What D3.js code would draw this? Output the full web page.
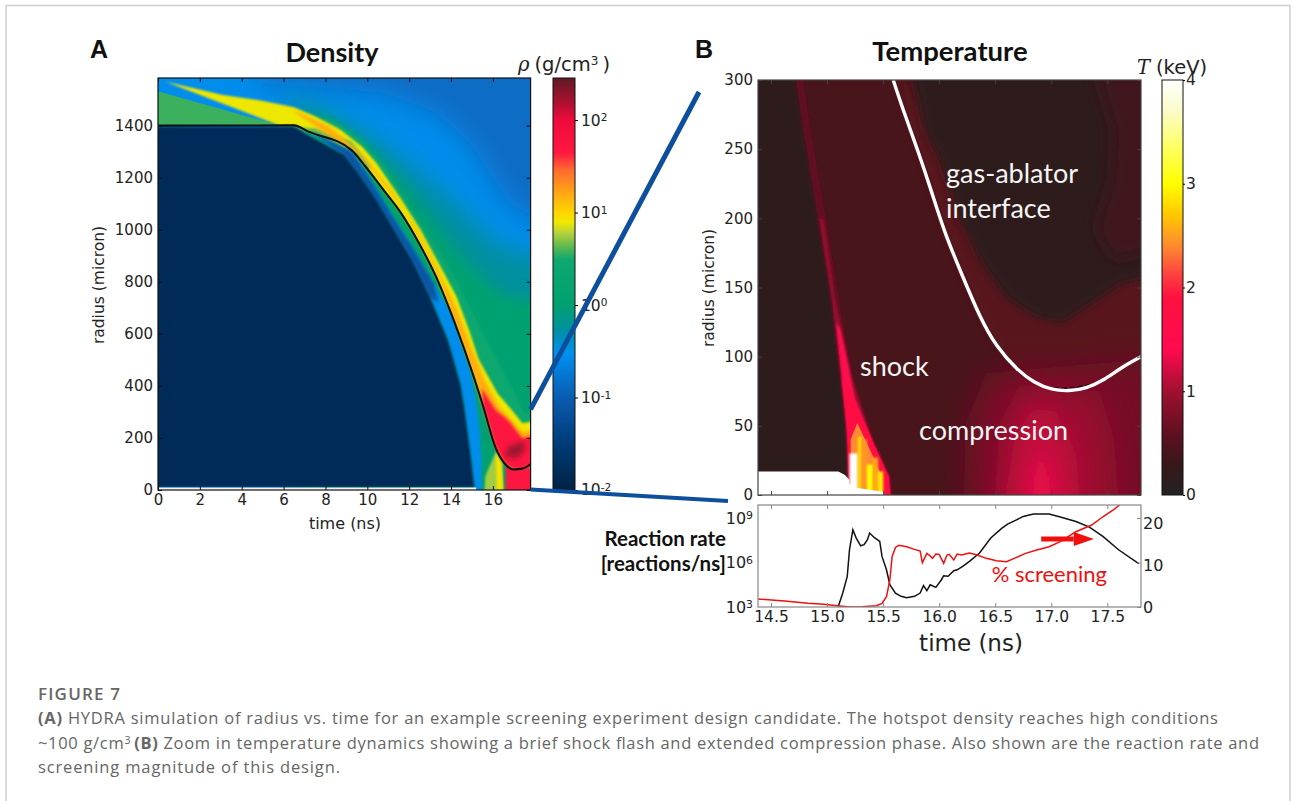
<!DOCTYPE html>
<html>
<head>
<meta charset="utf-8">
<script src="https://cdn.jsdelivr.net/npm/d3@7"></script>
<style>
  html, body { margin: 0; background: #fff; }
  svg { display: block; }
  .tick text { font-family: "DejaVu Sans", sans-serif; fill: #222; }
  .label { font-family: "DejaVu Sans", sans-serif; fill: #222; }
</style>
</head>
<body>
<svg id="fig" width="1292" height="801"></svg>
<script>
// colour maps
const densityStops = [0.01, 0.038, 0.1, 0.3, 0.54, 1, 3.1, 4.3, 6, 7.8, 10, 15, 29, 44, 100, 150, 285];
const densityColors = ["#002244", "#004080", "#0a5cb0", "#0090f0", "#0090a0", "#00a070", "#0ea870", "#60b850",
  "#b4d23c", "#eee800", "#ffd600", "#ffae10", "#ff6a30", "#ff1840", "#f00a3c", "#b01030", "#5e1a24"];
const tempStops = [0, 0.3, 0.6, 1, 1.4, 1.9, 2.1, 2.4, 2.7, 3, 3.4, 3.7, 4];
const tempColors = ["#222222", "#381818", "#601020", "#a01030", "#ff0a50", "#ff1040", "#ff3a40", "#ff8a30",
  "#ffc800", "#ffff00", "#ffff70", "#fbfbc8", "#ffffff"];

const densityTicks = [0.01, 0.1, 1, 10, 100];
const tempTicks = [0, 1, 2, 3, 4];
const radiusTicksA = [0, 200, 400, 600, 800, 1000, 1200, 1400];
const timeTicksA = [0, 2, 4, 6, 8, 10, 12, 14, 16];
const radiusTicksB = [0, 50, 100, 150, 200, 250, 300];
const timeTicksB = [14.5, 15, 15.5, 16, 16.5, 17, 17.5];
const rateTicks = [1e3, 1e6, 1e9];
const screeningTicks = [0, 10, 20];

// Panel A, [time ns, radius micron]
const gasEdge = [[0, 1400], [6.5, 1401], [7.19, 1377], [9.23, 1307], [9.91, 1243], [10.77, 1153], [11.62, 1063],
  [12.47, 948], [13.32, 813], [14.18, 641], [15.03, 448], [15.54, 320], [16.14, 160], [16.56, 102], [16.99, 79],
  [17.41, 82], [17.79, 99]];
const gasEdgeShell = gasEdge.slice(1);
const outerDarkBlue = [[4.8, 1583], [17.8, 1583], [17.8, 974], [16.73, 1102], [15.03, 1319], [13.32, 1448],
  [10.77, 1524], [7.36, 1550], [4.8, 1563]];
const tealZone = [[6.16, 1512], [8.21, 1448], [9.91, 1371], [11.96, 1255], [13.66, 1140], [15.03, 1038],
  [16.39, 935], [17.8, 871], [17.8, 0], [6.16, 0]];
const greenZone = [[7.19, 1460], [8.55, 1396], [9.91, 1320], [11.28, 1217], [12.64, 1089], [14, 948], [15.03, 858],
  [16.39, 756], [17.8, 692], [17.8, 0], [7.19, 0]];
const haloEdge = [[8.21, 1429], [9.74, 1345], [10.94, 1230], [12.13, 1076], [13.32, 935], [14.35, 794], [15.37, 628],
  [16.39, 474], [17.07, 371], [17.5, 295], [17.8, 320]];
const initialGas = [[0, 1575], [0, 1400], [5.82, 1400]];
const shellEdge = [[0.37, 1569], [3.1, 1518], [4.97, 1496], [6.5, 1471], [7.53, 1435], [8.72, 1384], [9.74, 1320],
  [10.43, 1256], [11.53, 1128], [12.55, 999], [13.41, 871], [14.26, 743], [14.86, 615], [15.33, 500], [16.22, 372],
  [16.9, 307], [17.41, 256], [17.8, 295]];
const oliveWedge = [[5.82, 1400], [7.53, 1390], [9.23, 1340], [10.2, 1240], [10, 1230], [9.23, 1307], [7.19, 1377], [6.5, 1401]];
const coreOuter = [[6.5, 1460], [8.2, 1396], [9.8, 1287], [11.15, 1153], [12.4, 999], [13.35, 852], [14.3, 692],
  [14.95, 551], [15.6, 423], [16.3, 320], [17.41, 224], [17.8, 243]];
const coreInner = [[13.55, 794], [12.8, 922], [11.75, 1076], [10.5, 1204], [9.55, 1294], [8, 1371], [6.5, 1454]];
const redCap = [[15.46, 391], [16.14, 307], [16.73, 269], [17.41, 199], [17.8, 243], [17.8, 99], [17.41, 82], [16.99, 79],
  [16.56, 102], [16.14, 160], [15.54, 320]];
const densityPeak = [[16.56, 128], [16.73, 167], [17.41, 186], [17.58, 160], [17.16, 122]];
const hotspotPatch = [[15.54, 0], [15.63, 51], [16.14, 147], [16.39, 102], [16.56, 0]];
const hotspotStrip = [[16.22, 0], [16.14, 147], [16.44, 102], [16.6, 0]];
const hotspotCore = [[16.56, 0], [16.62, 95], [16.99, 79], [17.41, 82], [17.8, 99], [17.8, 0]];
const fringeEdge = [[15.5, 0], [15.45, 110], [15.37, 231], [15.2, 340], [14.94, 448], [14, 679], [13.16, 794], [12.13, 935], [11.1, 1063],
  [9.91, 1223], [9.23, 1300], [7.19, 1383]];
const fringeDim = [[7.19, 1383], [9.23, 1300], [9.91, 1223], [11.1, 1063], [12.13, 935], [13.16, 794], [13.4, 720],
  [12.98, 743], [12.13, 884], [11.28, 999], [10.43, 1115], [9.57, 1217], [8.89, 1287]];
const coldFuel = [[0, 1396], [6.5, 1396], [7, 1371], [8.89, 1287], [9.57, 1217], [10.43, 1115], [11.28, 999], [12.13, 884],
  [12.98, 743], [13.84, 576], [14.15, 490], [14.43, 410], [14.62, 320], [14.77, 231], [14.95, 120], [15.11, 10], [0, 10]];
const axisGap = [[0, 10], [15.2, 10], [15.2, 0], [0, 0]];

// Panel B
const interfaceLine = [[15.59, 300], [15.68, 278], [15.81, 249], [15.93, 220], [16.05, 189], [16.21, 158], [16.36, 129],
  [16.51, 107], [16.7, 90], [16.85, 81], [17, 76], [17.16, 75], [17.31, 77], [17.47, 83], [17.62, 92], [17.8, 100]];
const interfaceDash = [[16.95, 78], [17.16, 77], [17.36, 80]];
const coldLeft = [[14.38, 300], [14.67, 300], [14.79, 264], [14.92, 200], [15.04, 144], [15.13, 83], [15.2, 15], [15.2, 0], [14.38, 0]];
const coldRight = [[15.7, 300], [15.87, 264], [16.02, 240], [16.17, 201], [16.39, 167], [16.6, 143], [16.85, 129], [17.1, 125],
  [17.4, 141], [17.62, 153], [17.8, 164], [17.8, 300]];
const coldRightRim = [[17.8, 164], [17.62, 153], [17.4, 141], [17.1, 125], [16.85, 129], [16.6, 143], [16.39, 167]];
const edgeGlow = [[17.31, 300], [17.56, 264], [17.54, 228], [17.4, 192], [17.56, 170], [17.8, 182], [17.8, 300]];
const shockTrail = [[14.67, 300], [14.73, 300], [14.85, 264], [14.99, 199], [15.1, 143], [15.22, 86], [15.13, 83], [15.04, 144], [14.92, 200], [14.79, 264]];
const shockBright = [[14.93, 200], [14.97, 199], [15.07, 143], [15.22, 86], [15.41, 38], [15.55, 13], [15.59, 0], [15.21, 0], [15.18, 52], [15.13, 85], [15.04, 143]];
const shockHot = [[15.08, 125], [15.12, 120], [15.25, 70], [15.41, 38], [15.55, 13], [15.59, 0], [15.21, 0], [15.18, 52], [15.13, 85]];
const shockCore = [[15.13, 85], [15.25, 66], [15.41, 38], [15.55, 13], [15.59, 0], [15.21, 0], [15.18, 42]];
const shockOrange = [[15.21, 40], [15.27, 52], [15.41, 28], [15.49, 13], [15.5, 0], [15.22, 0]];
const cellStart = [15.2, 15.275, 15.31, 15.355, 15.41, 15.455];
const cellEnd = [15.275, 15.31, 15.355, 15.41, 15.455, 15.5];
const cellTop = [30, 42, 40, 22, 27, 17];
const cellTemp = [4, 2.8, 2.45, 3, 2.55, 2.9];
const whiteFloor = [[14.38, 17], [15.1, 17], [15.16, 14.5], [15.2, 10.8], [15.2, 8], [15.27, 5], [15.5, 2.4], [15.62, 0.8], [15.7, 0], [14.38, 0]];
const compressionLow = [[16.21, 0], [16.24, 52], [16.42, 88], [16.7, 90], [17.8, 100], [17.8, 0]];
const compressionMid = [[16.48, 0], [16.54, 52], [16.73, 81], [17.16, 75], [17.43, 75], [17.56, 40], [17.62, 0]];
const compressionHigh = [[16.54, 0], [16.67, 40], [16.85, 65], [17.04, 60], [17.22, 30], [17.28, 0]];
const compressionPeak = [[16.8, 0], [16.85, 25], [16.97, 25], [17.04, 0]];

// Panel B lower plot
const rateTime = [15.1, 15.14, 15.18, 15.2, 15.23, 15.26, 15.3, 15.33, 15.36, 15.38, 15.42, 15.47, 15.49, 15.53, 15.56, 15.61,
  15.66, 15.71, 15.78, 15.83, 15.86, 15.89, 15.92, 15.97, 16.02, 16.04, 16.08, 16.13, 16.16, 16.21, 16.27, 16.36, 16.46,
  16.56, 16.61, 16.68, 16.75, 16.84, 16.98, 17.08, 17.22, 17.34, 17.46, 17.6, 17.78];
const rateLog = [3.04, 3.94, 5.06, 6.86, 8.21, 7.65, 7.13, 7.2, 7.54, 7.99, 7.69, 7.42, 6.41, 5.51, 4.5, 3.94,
  3.72, 3.63, 3.72, 3.94, 4.44, 4.1, 4.5, 4.32, 4.84, 5.11, 5.07, 5.45, 5.51, 5.74, 6.08, 6.64, 7.65,
  8.32, 8.59, 8.84, 9.11, 9.27, 9.27, 9.07, 8.77, 8.39, 7.76, 6.86, 5.92];
const screenTime = [14.385, 14.62, 14.83, 14.97, 15.11, 15.21, 15.31, 15.44, 15.49, 15.53, 15.56, 15.58, 15.61, 15.64, 15.71,
  15.78, 15.83, 15.85, 15.89, 15.91, 15.94, 15.97, 16, 16.04, 16.07, 16.09, 16.13, 16.16, 16.2, 16.27, 16.34, 16.42, 16.51,
  16.6, 16.67, 16.77, 16.87, 16.98, 17.08, 17.22, 17.36, 17.46, 17.55, 17.61];
const screenPct = [1.9, 1.43, 0.87, 0.63, 0.24, 0, 0.08, 0.32, 0.87, 2.46, 6.43, 11.98, 14.2, 14.68, 14.37,
  13.73, 13.33, 10.56, 12.78, 12.38, 11.59, 12.62, 12.54, 10.4, 12.38, 12.54, 11.19, 12.62, 12.38, 12.86, 12.38, 11.59, 11.03,
  10.79, 11.59, 12.78, 13.57, 14.37, 15.56, 17.94, 19.52, 21.5, 23.1, 24.3];

const svg = d3.select("#fig");
const defs = svg.append("defs");

const densityColor = d3.scaleLog().domain(densityStops).range(densityColors);
const tempColor = d3.scaleLinear().domain(tempStops).range(tempColors);

const xA = d3.scaleLinear([0, 17.8], [158, 530.6]);
const yA = d3.scaleLinear([0, 1583], [490, 78]);
const xB = d3.scaleLinear([14.384, 17.8], [758, 1141]);
const yB = d3.scaleLinear([0, 300], [495, 80]);
const yRate = d3.scaleLog([1e3, Math.pow(10, 9.88)], [607, 505]);
const yScreen = d3.scaleLinear([0, 24.3], [607, 505]);
const yDensityBar = d3.scaleLog([0.01, 285], [490, 78]);
const yTempBar = d3.scaleLinear([0, 4], [495, 80]);

// page frame
svg.append("path").attr("d", "M6,801V5.5H1290V801").attr("fill", "none").attr("stroke", "#cfcfcf").attr("stroke-width", 1.5);

function blurFilter(sd) {
  const id = "blur" + String(sd).replace(".", "_");
  if (defs.select("#" + id).empty()) {
    defs.append("filter").attr("id", id)
      .attr("filterUnits", "userSpaceOnUse")
      .attr("x", 0).attr("y", 0).attr("width", 1292).attr("height", 801)
      .append("feGaussianBlur").attr("stdDeviation", sd);
  }
  return `url(#${id})`;
}

function clipTo(name, x, y) {
  defs.append("clipPath").attr("id", name).append("rect")
    .attr("x", x.range()[0]).attr("y", y.range()[1])
    .attr("width", x.range()[1] - x.range()[0]).attr("height", y.range()[0] - y.range()[1]);
  return svg.append("g").attr("clip-path", `url(#${name})`);
}

// filled region; points on the plot edge get pushed out so the blur does not fade at the frame
function painter(g, x, y, colorOf) {
  return (pts, value, blur) => {
    const [x0, x1] = x.range();
    const [y1, y0] = y.range();
    const line = d3.line()
      .x((d) => {
        const px = x(d[0]);
        return px > x1 - 3 ? px + 40 : px < x0 + 3 ? px - 40 : px;
      })
      .y((d) => {
        const py = y(d[1]);
        return py > y1 - 1.5 ? py + 40 : py < y0 + 1.5 ? py - 40 : py;
      });
    g.append("path")
      .attr("d", line(pts) + "Z")
      .attr("fill", colorOf(value))
      .attr("filter", blur ? blurFilter(blur) : null);
  };
}

function frame(x, y, color, ticksX, ticksY) {
  svg.append("rect")
    .attr("x", x.range()[0]).attr("y", y.range()[1])
    .attr("width", x.range()[1] - x.range()[0]).attr("height", y.range()[0] - y.range()[1])
    .attr("fill", "none").attr("stroke", color).attr("stroke-width", 1.2);
  const small = (axis) => axis.tickSize(-4).tickFormat("");
  const add = (axis, tx, ty) => {
    const g = svg.append("g").attr("transform", `translate(${tx},${ty})`).call(axis);
    g.select(".domain").remove();
    g.selectAll("line").attr("stroke", color);
  };
  add(small(d3.axisTop(x).tickValues(ticksX)), 0, y.range()[1]);
  add(small(d3.axisRight(y).tickValues(ticksY)), x.range()[1], 0);
}

function leftAxis(y, ticks, tx, size) {
  const g = svg.append("g").attr("transform", `translate(${tx},0)`)
    .call(d3.axisLeft(y).tickValues(ticks).tickSize(-4).tickPadding(5).tickFormat(d3.format("d")));
  g.select(".domain").remove();
  g.selectAll("text").attr("font-size", size);
  return g;
}

function bottomAxis(x, ticks, ty, size, fmt) {
  const g = svg.append("g").attr("transform", `translate(0,${ty})`)
    .call(d3.axisBottom(x).tickValues(ticks).tickSize(-4).tickPadding(4).tickFormat(fmt));
  g.select(".domain").remove();
  g.selectAll("text").attr("font-size", size);
  return g;
}

function powerLabels(g, exponentOf) {
  g.selectAll("text").each(function (d) {
    const t = d3.select(this).text("10");
    t.append("tspan").attr("dy", "-0.42em").attr("font-size", "68%").text(exponentOf(d));
  });
}

function colorBar(name, stops, colors, scale, px0, px1) {
  const pos = d3.scaleLinear(scale.range(), [100, 0]);
  const grad = defs.append("linearGradient").attr("id", name)
    .attr("x1", 0).attr("y1", 0).attr("x2", 0).attr("y2", 1);
  // gradient stops have to run top to bottom
  for (let i = stops.length - 1; i >= 0; i--) {
    grad.append("stop").attr("offset", pos(scale(stops[i])) + "%").attr("stop-color", colors[i]);
  }
  svg.append("rect")
    .attr("x", px0).attr("y", scale.range()[1])
    .attr("width", px1 - px0).attr("height", scale.range()[0] - scale.range()[1])
    .attr("fill", `url(#${name})`).attr("stroke", "#111").attr("stroke-width", 1);
}

// ---- Panel A: density ----
const gA = clipTo("clipA", xA, yA);
gA.append("rect").attr("x", 150).attr("y", 70).attr("width", 400).attr("height", 430).attr("fill", densityColor(0.28));
const paintA = painter(gA, xA, yA, densityColor);
paintA(outerDarkBlue, 0.14, 14);
paintA(tealZone, 0.55, 12);
paintA(greenZone, 1.2, 8);
paintA(haloEdge.concat(gasEdgeShell.slice().reverse()), 2.6, 2.5);
paintA(initialGas, 3.7, 0.6);
paintA(shellEdge.concat(gasEdgeShell.slice().reverse(), [[5.82, 1400]]), 7.8, 1);
paintA(oliveWedge, 4.6, 1);
paintA(coreOuter.concat(gasEdge.slice(9).reverse(), coreInner), 15, 1.4);
paintA(redCap, 50, 1.5);
paintA(densityPeak, 170, 2.5);
paintA(hotspotPatch, 5.6, 1);
paintA(hotspotStrip, 8.5, 1);
paintA(hotspotCore, 52, 1);
paintA(fringeEdge.concat(coldFuel.slice(3, -1)), 0.28, 1.2);
paintA(fringeDim, 0.075, 1.5);
paintA(coldFuel, 0.0155, 1);
gA.append("path")
  .attr("d", d3.line().x((d) => xA(d[0])).y((d) => yA(d[1]))(axisGap) + "Z")
  .attr("fill", "#f4f4f4");
gA.append("path")
  .attr("d", d3.line().x((d) => xA(d[0])).y((d) => yA(d[1])).curve(d3.curveMonotoneX)(gasEdge))
  .attr("fill", "none").attr("stroke", "#111").attr("stroke-width", 2.1);

frame(xA, yA, "#111", timeTicksA, radiusTicksA);
leftAxis(yA, radiusTicksA, xA.range()[0], 15).selectAll("line").attr("stroke", "#111");
bottomAxis(xA, timeTicksA, yA.range()[0], 15, d3.format("d")).selectAll("line").attr("stroke", "#111");

colorBar("densityBar", densityStops, densityColors, yDensityBar, 553, 575);
const axDensity = svg.append("g").attr("transform", "translate(575,0)")
  .call(d3.axisRight(yDensityBar).tickValues(densityTicks).tickSize(3).tickPadding(3));
axDensity.select(".domain").remove();
axDensity.selectAll("text").attr("font-size", 15.5);
powerLabels(axDensity, (d) => String(Math.round(Math.log10(d))));

// ---- Panel B: temperature ----
const gB = clipTo("clipB", xB, yB);
gB.append("rect").attr("x", 750).attr("y", 70).attr("width", 400).attr("height", 430).attr("fill", tempColor(0.42));
const paintB = painter(gB, xB, yB, tempColor);
paintB(coldLeft, 0.17, 1.5);
paintB(interfaceLine.concat(coldRightRim), 0.54, 5);
paintB(coldRight, 0.17, 4);
paintB(edgeGlow, 0.36, 8);
paintB(compressionLow, 0.72, 14);
paintB(compressionMid, 0.95, 14);
paintB(compressionHigh, 1.15, 13);
paintB(compressionPeak, 1.35, 10);
paintB(shockTrail, 0.62, 1.5);
paintB(shockBright, 0.95, 1.5);
paintB(shockHot, 1.45, 1.2);
paintB(shockCore, 1.8, 1);
paintB(shockOrange, 2.4, 0.6);
gB.selectAll("rect.cell")
  .data(cellStart)
  .enter()
  .append("rect")
  .attr("class", "cell")
  .attr("x", (d) => xB(d))
  .attr("width", (d, i) => xB(cellEnd[i]) - xB(d))
  .attr("y", (d, i) => yB(cellTop[i]))
  .attr("height", (d, i) => yB(0) - yB(cellTop[i]))
  .attr("fill", (d, i) => tempColor(cellTemp[i]))
  .attr("filter", blurFilter(0.8));
paintB(whiteFloor, 4, 0.5);
gB.append("path")
  .attr("d", d3.line().x((d) => xB(d[0])).y((d) => yB(d[1]))(interfaceDash))
  .attr("fill", "none").attr("stroke", "#111").attr("stroke-width", 1.5).attr("stroke-dasharray", "5 3");
gB.append("path")
  .attr("d", d3.line().x((d) => xB(d[0])).y((d) => yB(d[1])).curve(d3.curveBasis)(interfaceLine))
  .attr("fill", "none").attr("stroke", "#fff").attr("stroke-width", 3.4);

frame(xB, yB, "#444", timeTicksB, radiusTicksB);
leftAxis(yB, radiusTicksB, xB.range()[0], 15).selectAll("line").attr("stroke", "#444");
bottomAxis(xB, timeTicksB, yB.range()[0], 15, "").selectAll("line").attr("stroke", "#444");

colorBar("tempBar", tempStops, tempColors, yTempBar, 1162, 1183);
const axTemp = svg.append("g").attr("transform", "translate(1183,0)")
  .call(d3.axisRight(yTempBar).tickValues(tempTicks).tickSize(2).tickPadding(1).tickFormat(d3.format("d")));
axTemp.select(".domain").remove();
axTemp.selectAll("text").attr("font-size", 15.5);

// ---- reaction rate / screening ----
const xLow = xB;
const rateLine = d3.line().x((d, i) => xLow(rateTime[i])).y((d) => yRate(Math.pow(10, d)));
const screenLine = d3.line().x((d, i) => xLow(screenTime[i])).y((d) => yScreen(d));
const gLow = clipTo("clipLow", xLow, yRate);
gLow.append("path").attr("d", rateLine(rateLog)).attr("fill", "none").attr("stroke", "#111").attr("stroke-width", 1.5);
gLow.append("path").attr("d", screenLine(screenPct)).attr("fill", "none").attr("stroke", "#f00f0f").attr("stroke-width", 1.5);

frame(xLow, yRate, "#888", timeTicksB, rateTicks);
bottomAxis(xLow, timeTicksB, yRate.range()[0], 15.5, d3.format(".1f")).selectAll("line").attr("stroke", "#888");
const axRate = svg.append("g").attr("transform", `translate(${xLow.range()[0]},0)`)
  .call(d3.axisLeft(yRate).tickValues(rateTicks).tickSize(0).tickPadding(5));
axRate.select(".domain").remove();
axRate.selectAll("text").attr("font-size", 16);
powerLabels(axRate, (d) => String(Math.round(Math.log10(d))));
const axScreen = svg.append("g").attr("transform", `translate(${xLow.range()[1]},0)`)
  .call(d3.axisRight(yScreen).tickValues(screeningTicks).tickSize(0).tickPadding(2).tickFormat(d3.format("d")));
axScreen.select(".domain").remove();
axScreen.selectAll("text").attr("font-size", 16);

// red arrow pointing at the screening axis
svg.append("path")
  .attr("d", d3.line()([[xLow(16.91), yScreen(16.2)], [xLow(17.2), yScreen(16.2)]]))
  .attr("stroke", "#f00f0f").attr("stroke-width", 5);
svg.append("path")
  .attr("d", d3.line()([[xLow(17.2), yScreen(16.2) - 7], [xLow(17.38), yScreen(16.2)], [xLow(17.2), yScreen(16.2) + 7]]) + "Z")
  .attr("fill", "#f00f0f");

// zoom lines from panel A to panel B
svg.append("path")
  .attr("d", d3.line()([[xA(17.8), yA(310)], [699, 92]]))
  .attr("stroke", "#0d4f9c").attr("stroke-width", 5).attr("fill", "none");
svg.append("path")
  .attr("d", d3.line()([[xA(17.8), yA(2)], [728, 501]]))
  .attr("stroke", "#0d4f9c").attr("stroke-width", 3.8).attr("fill", "none");

// ---- text ----
function text(x, y, s, size, opts = {}) {
  return svg.append("text").attr("x", x).attr("y", y).text(s)
    .attr("font-size", size)
    .attr("font-family", opts.family || "Lato, sans-serif")
    .attr("font-weight", opts.weight || "normal")
    .attr("fill", opts.fill || "#111")
    .attr("text-anchor", opts.anchor || "start");
}
const arial = "'Liberation Sans', sans-serif";
const dejavu = "'DejaVu Sans', sans-serif";
const openSans = "'Open Sans', sans-serif";
text(90, 58, "A", 25, { family: arial, weight: "bold" });
text(695, 58, "B", 25, { family: arial, weight: "bold" });
text(332, 62, "Density", 27, { weight: "bold", anchor: "middle" });
text(950, 61, "Temperature", 27.5, { weight: "bold", anchor: "middle" });

text(345, 529, "time (ns)", 16, { family: dejavu, fill: "#222", anchor: "middle" });
text(971, 651, "time (ns)", 23, { family: dejavu, fill: "#222", anchor: "middle" });
svg.append("text").attr("transform", "translate(104,285) rotate(-90)")
  .attr("class", "label").attr("font-size", 15.5).attr("text-anchor", "middle").text("radius (micron)");
svg.append("text").attr("transform", "translate(714,288) rotate(-90)")
  .attr("class", "label").attr("font-size", 15.5).attr("text-anchor", "middle").text("radius (micron)");

const rhoLabel = text(518, 71, "ρ", 19.5, { family: "'DejaVu Serif', serif", fill: "#222" }).style("font-style", "italic");
rhoLabel.append("tspan").attr("dx", 5).attr("font-family", dejavu).style("font-style", "normal").text("(g/cm");
rhoLabel.append("tspan").attr("dy", -6).attr("font-size", 12).attr("font-family", dejavu).style("font-style", "normal").text("3");
rhoLabel.append("tspan").attr("dy", 6).attr("dx", 4).attr("font-family", dejavu).style("font-style", "normal").text(")");

const tLabel = text(1137, 74, "T", 19.5, { family: "'DejaVu Serif', serif", fill: "#222" }).style("font-style", "italic");
tLabel.append("tspan").attr("dx", 6).attr("font-family", dejavu).style("font-style", "normal").text("(keV)");

text(946, 183, "gas-ablator", 27, { fill: "#f5f5f5" });
text(946, 218, "interface", 27, { fill: "#f5f5f5" });
text(860, 376, "shock", 27, { fill: "#f5f5f5" });
text(919, 440, "compression", 27, { fill: "#f5f5f5" });
text(1107, 582, "% screening", 22, { fill: "#f00f0f", anchor: "end" });
text(726, 546, "Reaction rate", 20.5, { weight: "bold", anchor: "end" });
text(726, 571, "[reactions/ns]", 20.5, { weight: "bold", anchor: "end" });

// ---- caption ----
const captionColor = "#666";
text(38, 700, "FIGURE 7", 17, { family: openSans, weight: "600", fill: captionColor }).attr("textLength", 82).attr("lengthAdjust", "spacing");
const cap1 = text(38, 724, "", 16.5, { family: openSans, fill: captionColor }).attr("textLength", 1180).attr("lengthAdjust", "spacing");
cap1.append("tspan").attr("font-weight", "bold").text("(A)");
cap1.append("tspan").text(" HYDRA simulation of radius vs. time for an example screening experiment design candidate. The hotspot density reaches high conditions");
const cap2 = text(38, 748.5, "", 16.5, { family: openSans, fill: captionColor }).attr("textLength", 1221).attr("lengthAdjust", "spacing");
cap2.append("tspan").text("~100 g/cm");
cap2.append("tspan").attr("dy", -5).attr("font-size", 10.5).text("3");
cap2.append("tspan").attr("dy", 5).attr("dx", 3).attr("font-weight", "bold").text("(B)");
cap2.append("tspan").text(" Zoom in temperature dynamics showing a brief shock flash and extended compression phase. Also shown are the reaction rate and");
text(38, 772.5, "screening magnitude of this design.", 16.5, { family: openSans, fill: captionColor }).attr("textLength", 302).attr("lengthAdjust", "spacing");
</script>
</body>
</html>
